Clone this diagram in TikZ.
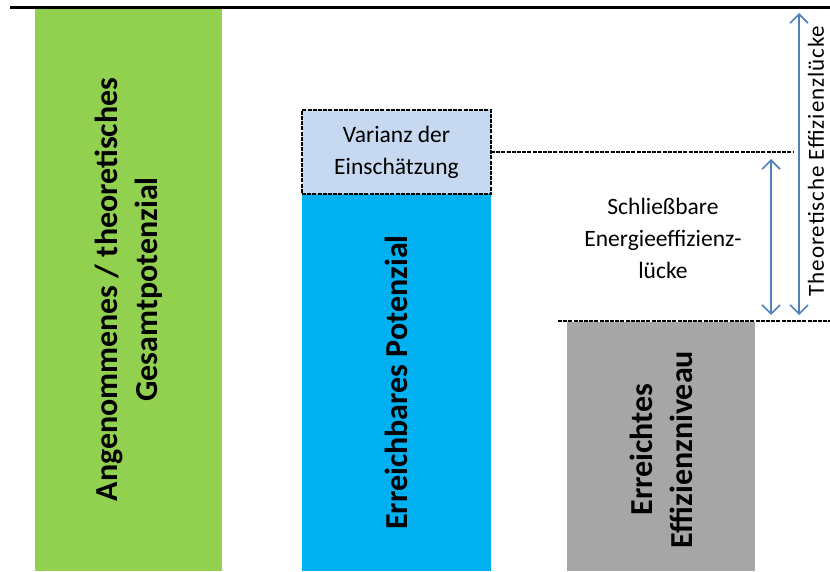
\documentclass[tikz,border=0pt]{standalone}
\usepackage{fontspec}
\setmainfont{Carlito}
\usetikzlibrary{arrows.meta}

\definecolor{barGreen}{HTML}{92D050}
\definecolor{barBlue}{HTML}{00B0F0}
\definecolor{barGray}{HTML}{A6A6A6}
\definecolor{varBlue}{HTML}{C6D9F1}
\definecolor{arrowBlue}{HTML}{4F81BD}

\begin{document}
\begin{tikzpicture}[x=1pt, y=-1pt,
    bar/.style={inner sep=0pt, outer sep=0pt, anchor=north west},
    barlabel/.style={rotate=90, align=center, font=\fontsize{32}{40}\selectfont\bfseries},
    smalltext/.style={align=center, font=\fontsize{23.5}{32}\selectfont},
    gapline/.style={line width=2.2pt, dash pattern=on 4pt off 1.2pt},
    gaparrow/.style={draw=arrowBlue, line width=1.6pt,
      {Straight Barb[length=9pt,width=18pt]}-{Straight Barb[length=9pt,width=18pt]}}]
  \useasboundingbox (0,0) rectangle (830,571);
  % bars
  \node[bar, fill=barGreen, minimum width=187, minimum height=563] (total) at (35,8) {};
  \node[bar, fill=barBlue, minimum width=189, minimum height=377] (reach) at (302,194) {};
  \node[bar, fill=barGray, minimum width=188, minimum height=249] (level) at (567,322) {};
  \node[bar, fill=varBlue, draw, gapline, minimum width=189, minimum height=84, smalltext] (varianz) at (302,110) {Varianz der\\Einschätzung};
  % bar labels
  \node[barlabel] (totallbl) at (total.center) {Angenommenes / theoretisches\\Gesamtpotenzial};
  \node[barlabel] (reachlbl) at (reach.center) {Erreichbares Potenzial};
  \node[barlabel] (levellbl) at ([yshift=-3]level.center) {Erreichtes\\Effizienzniveau};
  % lines
  \coordinate (topL) at (10,7);
  \coordinate (topR) at (830,7);
  \draw[line width=3pt] (topL) -- (topR);
  \coordinate (midR) at (793,152);
  \draw[gapline] (varianz.east) -- (midR);
  \coordinate (lowL) at (558,321);
  \coordinate (lowR) at (830,321);
  \draw[gapline] (lowL) -- (lowR);
  % arrows
  \coordinate (smallTop) at (771,159);
  \coordinate (smallBot) at (771,315);
  \coordinate (bigTop) at (799,13);
  \coordinate (bigBot) at (799,315);
  \draw[gaparrow] (smallTop) -- (smallBot);
  \draw[gaparrow] (bigTop) -- (bigBot);
  % gap labels
  \node[smalltext] (closable) at (663,238) {Schließbare\\Energieeffizienz-\\lücke};
  \node[smalltext, rotate=90, inner sep=1pt, font=\fontsize{23}{32}\selectfont\addfontfeature{LetterSpace=4}] (theory) at (816,161) {Theoretische Effizienzlücke};
\end{tikzpicture}
\end{document}
